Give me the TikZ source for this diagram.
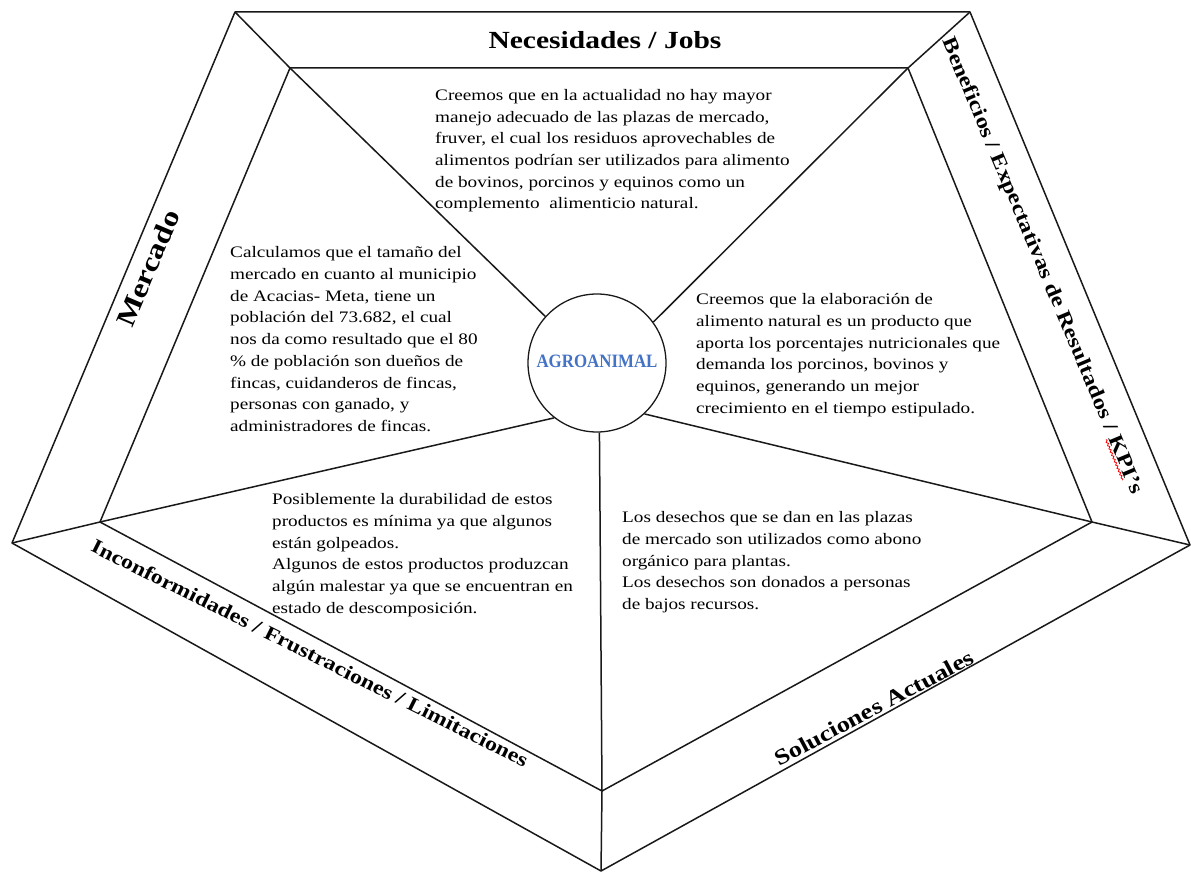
\documentclass[tikz,border=0pt]{standalone}
\usepackage{fontspec}
\setmainfont{Liberation Serif}[FakeStretch=1.2]
\usetikzlibrary{decorations.pathmorphing}
\definecolor{agblue}{RGB}{68,114,196}
\begin{document}
\begin{tikzpicture}[x=1pt,y=-1pt,
  edge/.style={line width=1.5pt, draw=black!90, line join=round},
  body/.style={anchor=north west, inner sep=0pt, align=left, font=\fontsize{16}{21.7}\selectfont},
  ttl/.style={font=\bfseries\fontsize{20.5}{24}\selectfont, inner sep=0pt}]
\useasboundingbox (0,0) rectangle (1191,872);
% outer pentagon
\coordinate (oTL) at (235,12);
\coordinate (oTR) at (970,12);
\coordinate (oR) at (1190,545);
\coordinate (oB) at (601,871);
\coordinate (oL) at (12,543);
% inner pentagon
\coordinate (iTL) at (290,68);
\coordinate (iTR) at (908,68);
\coordinate (iR) at (1092,522);
\coordinate (iB) at (602,791);
\coordinate (iL) at (100,522);
\node[circle, draw=black!90, line width=1.3pt, minimum size=138pt, inner sep=0pt] (c) at (597,363) {};
\draw[edge] (oTL) -- (oTR) -- (oR) -- (oB) -- (oL) -- cycle;
\draw[edge] (iTL) -- (iTR) -- (iR) -- (iB) -- (iL) -- cycle;
\draw[edge] (oTL) -- (iTL) -- (c.138);
\draw[edge] (oTR) -- (iTR) -- (c.36);
\draw[edge] (oR) -- (iR) -- (c.313);
\draw[edge] (oB) -- (iB) -- (c.272);
\draw[edge] (oL) -- (iL) -- (c.232);
% centre label
\node[inner sep=0pt, text=agblue] (ag) at (597,361) {\resizebox{121pt}{12.5pt}{\bfseries AGROANIMAL}};
% titles
\node[ttl, font=\bfseries\fontsize{24.6}{28}\selectfont] (tNec) at (605,40) {Necesidades / Jobs};
\node[ttl, font=\bfseries\fontsize{27}{30}\selectfont, rotate=67] (tMer) at (148,268) {Mercado};
\node[ttl, rotate=-67.3] (tBen) at (1042,266) {Beneficios / Expectativas de Resultados / \tikz[baseline=(k.base)]{\node[inner sep=0pt] (k) {KPI}; \draw[red, line width=0.8pt, decorate, decoration={snake, amplitude=0.9pt, segment length=3.5pt}] ([yshift=-3pt]k.base west) -- ([yshift=-3pt]k.base east);}'s};
\node[ttl, font=\bfseries\fontsize{20}{24}\selectfont, rotate=-26.5] (tInc) at (310,653) {Inconformidades / Frustraciones / Limitaciones};
\node[ttl, font=\bfseries\fontsize{22}{26}\selectfont, rotate=28] (tSol) at (874,708) {Soluciones Actuales};
% body texts
\node[body] (bNec) at (435,89) {Creemos que en la actualidad no hay mayor\\
manejo adecuado de las plazas de mercado,\\
fruver, el cual los residuos aprovechables de\\
alimentos podrían ser utilizados para alimento\\
de bovinos, porcinos y equinos como un\\
complemento\ \ alimenticio natural.};
\node[body] (bMer) at (230,246.5) {Calculamos que el tamaño del\\
mercado en cuanto al municipio\\
de Acacias- Meta, tiene un\\
población del 73.682, el cual\\
nos da como resultado que el 80\\
\% de población son dueños de\\
fincas, cuidanderos de fincas,\\
personas con ganado, y\\
administradores de fincas.};
\node[body] (bBen) at (696,293.5) {Creemos que la elaboración de\\
alimento natural es un producto que\\
aporta los porcentajes nutricionales que\\
demanda los porcinos, bovinos y\\
equinos, generando un mejor\\
crecimiento en el tiempo estipulado.};
\node[body] (bInc) at (272,493.5) {Posiblemente la durabilidad de estos\\
productos es mínima ya que algunos\\
están golpeados.\\
Algunos de estos productos produzcan\\
algún malestar ya que se encuentran en\\
estado de descomposición.};
\node[body] (bSol) at (622,511.5) {Los desechos que se dan en las plazas\\
de mercado son utilizados como abono\\
orgánico para plantas.\\
Los desechos son donados a personas\\
de bajos recursos.};
\end{tikzpicture}
\end{document}
